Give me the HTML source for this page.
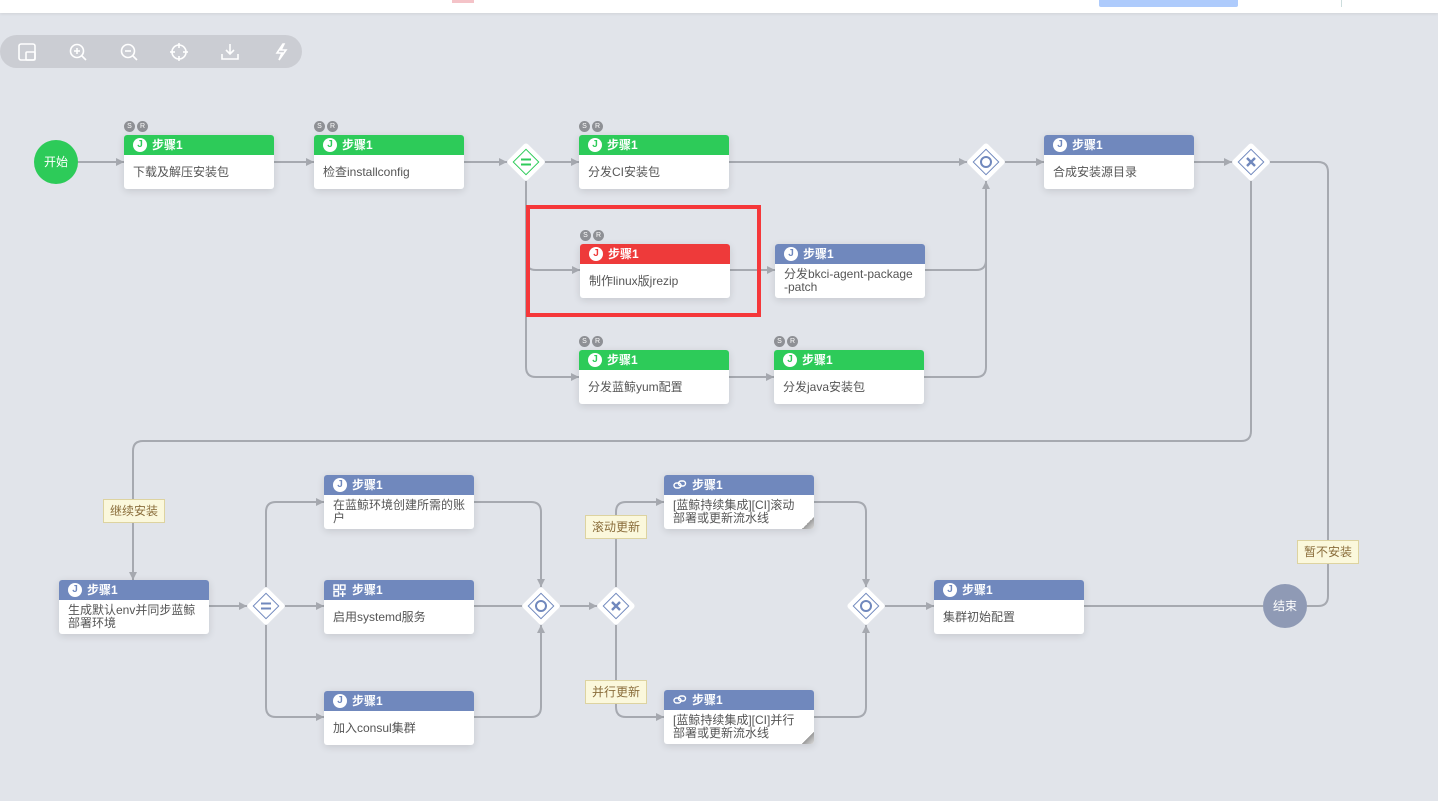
<!DOCTYPE html>
<html><head><meta charset="utf-8">
<style>
*{margin:0;padding:0;box-sizing:border-box}
body{width:1438px;height:801px;background:#e1e4ea;position:relative;overflow:hidden;font-family:"Liberation Sans","Noto Sans CJK SC",sans-serif;}
.top{position:absolute;left:0;top:0;width:1438px;height:13px;background:#fff;box-shadow:0 1px 3px rgba(0,0,0,.08)}
.tb{position:absolute;left:0;top:35px;width:302px;height:33px;border-radius:17px;background:#cbcdd3}
.node{position:absolute;width:150px;height:54px;background:#fff;border-radius:3px;box-shadow:0 2px 8px rgba(0,0,0,.12);overflow:hidden}
.node .h{height:20px;color:#fff;font-size:12px;font-weight:bold;line-height:20px;padding-left:28px;position:relative}
.node .h i{position:absolute;left:9px;top:3px;width:14px;height:14px;border-radius:50%;background:#fff;font-style:normal;font-size:10px;line-height:14px;text-align:center}
.node .h svg{position:absolute;left:9px;top:4px}
.node .b{font-size:12px;color:#555;padding:3px 9px;line-height:13px;height:34px;display:flex;align-items:center;word-break:break-all}
.g .h{background:#2dcb59}.g .h i{color:#2dcb59}
.bl .h{background:#7088bd}.bl .h i{color:#7088bd}
.r .h{background:#ee3a3a}.r .h i{color:#ee3a3a}
.sr{position:absolute;font-size:7px;color:#fff}
.sr span{display:inline-block;width:11px;height:11px;border-radius:50%;background:#8e9095;text-align:center;line-height:11px;margin-right:2px}
.lab{position:absolute;background:#fbf8dc;border:1px solid #ddd3a0;font-size:12px;color:#8a6d3b;width:62px;height:24px;line-height:22px;text-align:center}
.circ{position:absolute;width:44px;height:44px;border-radius:50%;color:#fff;font-size:12px;line-height:44px;text-align:center}
.fold{position:absolute;right:0;bottom:0;width:12px;height:12px;background:linear-gradient(135deg,#fff 50%,#999 50%,#ddd)}
</style></head><body>
<div class="top"></div>
<div style="position:absolute;left:452px;top:0;width:22px;height:3px;background:#f4c3c8"></div>
<div style="position:absolute;left:1099px;top:0;width:139px;height:7px;background:#aecbfc;border-radius:0 0 2px 2px"></div>
<div style="position:absolute;left:1341px;top:0;width:1px;height:7px;background:#cdd"></div>
<div class="tb"></div>
<svg style="position:absolute;left:0;top:0" width="1438" height="801">
<g fill="none" stroke="#fff" stroke-width="1.6">
<rect x="19" y="44" width="16" height="16" rx="2"/><rect x="26" y="52" width="9" height="8" rx="1"/>
<circle cx="77" cy="51" r="6.5"/><line x1="82" y1="56" x2="86" y2="60"/><line x1="74" y1="51" x2="80" y2="51"/><line x1="77" y1="48" x2="77" y2="54"/>
<circle cx="128" cy="51" r="6.5"/><line x1="133" y1="56" x2="137" y2="60"/><line x1="125" y1="51" x2="131" y2="51"/>
<circle cx="179" cy="52" r="7"/><line x1="179" y1="43" x2="179" y2="48"/><line x1="179" y1="56" x2="179" y2="61"/><line x1="170" y1="52" x2="175" y2="52"/><line x1="183" y1="52" x2="188" y2="52"/>
<path d="M222 54v5h16v-5M230 44v10M226 50l4 4 4-4"/>
<path d="M283 44l-6 9h5l-3 7 7-10h-5l3-6z"/>
</g>
<g fill="none" stroke="#a6a9b0" stroke-width="2">
<path d="M78 162H124M274 162H314M464 162H507M545 162H579M729 162H967M1005 162H1044M1194 162H1232"/>
<path d="M526 181V367q0 10 10 10H579M526 260q0 10 10 10H580"/>
<path d="M730 270H775M729 377H774M925 270H976q10 0 10-10V181M924 377H976q10 0 10-10V181"/>
<path d="M1251 181V431q0 10-10 10H143q-10 0-10 10V580"/>
<path d="M1270 162H1318q10 0 10 10V596q0 10-10 10H1307"/>
<path d="M209 606H247M285 606H324M474 606H522M560 606H597"/>
<path d="M266 587V512q0-10 10-10H324M266 625V707q0 10 10 10H324"/>
<path d="M474 502H531q10 0 10 10V587M474 717H531q10 0 10-10V625"/>
<path d="M616 587V512q0-10 10-10H664M616 625V707q0 10 10 10H664"/>
<path d="M814 502H856q10 0 10 10V587M814 717H856q10 0 10-10V625"/>
<path d="M885 606H934M1084 606H1263"/>
</g>
<g fill="#a6a9b0">
<path d="M124 162l-8-4v8zM314 162l-8-4v8zM507 162l-8-4v8zM579 162l-8-4v8zM967 162l-8-4v8zM1044 162l-8-4v8zM1232 162l-8-4v8z"/>
<path d="M580 270l-8-4v8zM579 377l-8-4v8zM775 270l-8-4v8zM774 377l-8-4v8zM986 181l-4 8h8z"/>
<path d="M133 580l-4-8h8zM1263 606l8-4v8z"/>
<path d="M247 606l-8-4v8zM324 606l-8-4v8zM597 606l-8-4v8zM324 502l-8-4v8zM324 717l-8-4v8zM541 587l-4-8h8zM541 625l-4 8h8z"/>
<path d="M664 502l-8-4v8zM664 717l-8-4v8zM866 587l-4-8h8zM866 625l-4 8h8zM934 606l-8-4v8z"/>
</g>
<g>
<g transform="translate(526,162)"><rect x="-14" y="-14" width="28" height="28" rx="3" fill="#fff" transform="rotate(45)"/><rect x="-9" y="-9" width="18" height="18" fill="none" stroke="#2dcb59" transform="rotate(45)"/><path d="M-5 -2.5h10M-5 2.5h10" stroke="#2dcb59" stroke-width="2"/></g>
<g transform="translate(986,162)"><rect x="-14" y="-14" width="28" height="28" rx="3" fill="#fff" transform="rotate(45)"/><rect x="-9" y="-9" width="18" height="18" fill="none" stroke="#7088bd" transform="rotate(45)"/><circle r="5" fill="none" stroke="#7088bd" stroke-width="2"/></g>
<g transform="translate(1251,162)"><rect x="-14" y="-14" width="28" height="28" rx="3" fill="#fff" transform="rotate(45)"/><rect x="-9" y="-9" width="18" height="18" fill="none" stroke="#7088bd" transform="rotate(45)"/><path d="M-4 -4l8 8M4 -4l-8 8" stroke="#7088bd" stroke-width="2.4"/></g>
<g transform="translate(266,606)"><rect x="-14" y="-14" width="28" height="28" rx="3" fill="#fff" transform="rotate(45)"/><rect x="-9" y="-9" width="18" height="18" fill="none" stroke="#7088bd" transform="rotate(45)"/><path d="M-5 -2.5h10M-5 2.5h10" stroke="#7088bd" stroke-width="2"/></g>
<g transform="translate(541,606)"><rect x="-14" y="-14" width="28" height="28" rx="3" fill="#fff" transform="rotate(45)"/><rect x="-9" y="-9" width="18" height="18" fill="none" stroke="#7088bd" transform="rotate(45)"/><circle r="5" fill="none" stroke="#7088bd" stroke-width="2"/></g>
<g transform="translate(616,606)"><rect x="-14" y="-14" width="28" height="28" rx="3" fill="#fff" transform="rotate(45)"/><rect x="-9" y="-9" width="18" height="18" fill="none" stroke="#7088bd" transform="rotate(45)"/><path d="M-4 -4l8 8M4 -4l-8 8" stroke="#7088bd" stroke-width="2.4"/></g>
<g transform="translate(866,606)"><rect x="-14" y="-14" width="28" height="28" rx="3" fill="#fff" transform="rotate(45)"/><rect x="-9" y="-9" width="18" height="18" fill="none" stroke="#7088bd" transform="rotate(45)"/><circle r="5" fill="none" stroke="#7088bd" stroke-width="2"/></g>
</g>
<rect x="528" y="207" width="231" height="108" fill="none" stroke="#f5373a" stroke-width="4"/>
</svg>

<div class="circ" style="left:34px;top:140px;background:#2dcb59">开始</div>
<div class="circ" style="left:1263px;top:584px;background:#8f9ab5">结束</div>

<div class="sr" style="left:124px;top:121px"><span>S</span><span>R</span></div>
<div class="node g" style="left:124px;top:135px"><div class="h"><i>J</i>步骤1</div><div class="b">下载及解压安装包</div></div>
<div class="sr" style="left:314px;top:121px"><span>S</span><span>R</span></div>
<div class="node g" style="left:314px;top:135px"><div class="h"><i>J</i>步骤1</div><div class="b">检查installconfig</div></div>
<div class="sr" style="left:579px;top:121px"><span>S</span><span>R</span></div>
<div class="node g" style="left:579px;top:135px"><div class="h"><i>J</i>步骤1</div><div class="b">分发CI安装包</div></div>
<div class="node bl" style="left:1044px;top:135px"><div class="h"><i>J</i>步骤1</div><div class="b">合成安装源目录</div></div>

<div class="sr" style="left:580px;top:230px"><span>S</span><span>R</span></div>
<div class="node r" style="left:580px;top:244px"><div class="h"><i>J</i>步骤1</div><div class="b">制作linux版jrezip</div></div>
<div class="node bl" style="left:775px;top:244px"><div class="h"><i>J</i>步骤1</div><div class="b">分发bkci-agent-package-patch</div></div>

<div class="sr" style="left:579px;top:336px"><span>S</span><span>R</span></div>
<div class="node g" style="left:579px;top:350px"><div class="h"><i>J</i>步骤1</div><div class="b">分发蓝鲸yum配置</div></div>
<div class="sr" style="left:774px;top:336px"><span>S</span><span>R</span></div>
<div class="node g" style="left:774px;top:350px"><div class="h"><i>J</i>步骤1</div><div class="b">分发java安装包</div></div>

<div class="node bl" style="left:59px;top:580px"><div class="h"><i>J</i>步骤1</div><div class="b">生成默认env并同步蓝鲸部署环境</div></div>
<div class="node bl" style="left:324px;top:475px"><div class="h"><i>J</i>步骤1</div><div class="b">在蓝鲸环境创建所需的账户</div></div>
<div class="node bl" style="left:324px;top:580px"><div class="h"><svg width="13" height="13" fill="none" stroke="#fff" stroke-width="1.4"><rect x="1" y="1" width="4.5" height="4.5"/><rect x="7.5" y="1" width="4.5" height="4.5"/><rect x="1" y="7.5" width="4.5" height="4.5"/><path d="M9.7 7v6M6.7 10h6"/></svg>步骤1</div><div class="b">启用systemd服务</div></div>
<div class="node bl" style="left:324px;top:691px"><div class="h"><i>J</i>步骤1</div><div class="b">加入consul集群</div></div>
<div class="node bl" style="left:664px;top:475px"><div class="h"><svg width="14" height="12" fill="none" stroke="#fff" stroke-width="1.4"><rect x="1" y="4" width="7" height="5" rx="2.5"/><rect x="5.5" y="2" width="7" height="5" rx="2.5"/></svg>步骤1</div><div class="b">[蓝鲸持续集成][CI]滚动部署或更新流水线</div><div class="fold"></div></div>
<div class="node bl" style="left:664px;top:690px"><div class="h"><svg width="14" height="12" fill="none" stroke="#fff" stroke-width="1.4"><rect x="1" y="4" width="7" height="5" rx="2.5"/><rect x="5.5" y="2" width="7" height="5" rx="2.5"/></svg>步骤1</div><div class="b">[蓝鲸持续集成][CI]并行部署或更新流水线</div><div class="fold"></div></div>
<div class="node bl" style="left:934px;top:580px"><div class="h"><i>J</i>步骤1</div><div class="b">集群初始配置</div></div>

<div class="lab" style="left:103px;top:499px">继续安装</div>
<div class="lab" style="left:585px;top:515px">滚动更新</div>
<div class="lab" style="left:585px;top:680px">并行更新</div>
<div class="lab" style="left:1297px;top:540px">暂不安装</div>
</body></html>
